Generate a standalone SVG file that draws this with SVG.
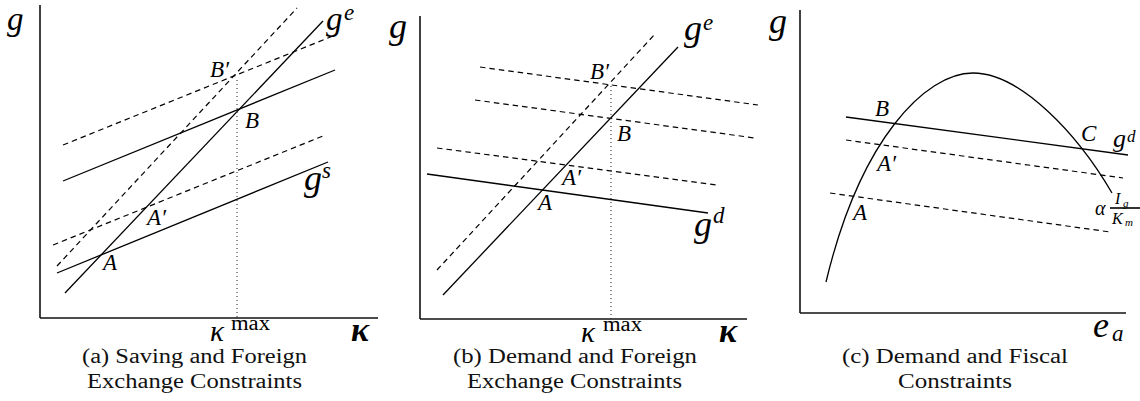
<svg xmlns="http://www.w3.org/2000/svg" width="1140" height="401" viewBox="0 0 1140 401">
<style>
.ax{stroke:#111;stroke-width:1.6;fill:none}
.ln{stroke:#000;stroke-width:1.3;fill:none}
.ds{stroke:#000;stroke-width:1.2;fill:none;stroke-dasharray:5.5 4}
.dt{stroke:#333;stroke-width:1.1;fill:none;stroke-dasharray:1 3}
.big{font-family:"Liberation Serif",serif;font-style:italic;font-size:36px;fill:#000}
.top{font-size:33px}
.sup{font-family:"Liberation Serif",serif;font-style:italic;font-size:23px;fill:#000}
.pt{font-family:"Liberation Serif",serif;font-style:italic;font-size:23px;fill:#000}
.kap{font-family:"Liberation Serif",serif;font-style:italic;font-size:29px;fill:#000}
.rm{font-family:"Liberation Serif",serif;font-size:20px;fill:#000}
.bk{font-family:"Liberation Serif",serif;font-style:italic;font-weight:bold;font-size:34px;fill:#000}
.cap{font-family:"Liberation Serif",serif;font-size:20px;fill:#111;text-anchor:middle}
</style>
<rect width="1140" height="401" fill="#fff"/>

<g id="panel-a">
  <g id="a-axes">
    <line class="ax" x1="40" y1="5" x2="40" y2="318"/>
    <line class="ax" x1="40" y1="318" x2="378" y2="318"/>
  </g>
  <g id="a-lines">
    <line class="ln" x1="65" y1="293" x2="323" y2="21"/>
    <line class="ds" x1="57" y1="266" x2="297" y2="8"/>
    <line class="ln" x1="63" y1="181" x2="335" y2="70"/>
    <line class="ds" x1="63" y1="145" x2="333" y2="36"/>
    <line class="ln" x1="57" y1="273" x2="328" y2="162"/>
    <line class="ds" x1="53" y1="245" x2="323" y2="136"/>
    <line class="dt" x1="237" y1="80" x2="237" y2="318"/>
  </g>
  <g id="a-labels">
    <text class="big top" x="7" y="30">g</text>
    <text class="big top" x="326" y="30">g</text><text class="sup" x="344" y="20">e</text>
    <text class="big" x="304" y="190">g</text><text class="sup" x="322" y="178">s</text>
    <text class="pt" x="210" y="77">B′</text>
    <text class="pt" x="245" y="128">B</text>
    <text class="pt" x="147" y="225">A′</text>
    <text class="pt" x="103" y="270">A</text>
    <text class="kap" x="210" y="341">κ</text><text class="rm" x="231" y="330" textLength="39" lengthAdjust="spacingAndGlyphs">max</text>
    <text class="bk" x="351" y="341">κ</text>
  </g>
  <g id="a-caption">
    <text class="cap" x="194.5" y="363" textLength="225" lengthAdjust="spacingAndGlyphs">(a) Saving and Foreign</text>
    <text class="cap" x="194.5" y="388" textLength="215" lengthAdjust="spacingAndGlyphs">Exchange Constraints</text>
  </g>
</g>

<g id="panel-b">
  <g id="b-axes">
    <line class="ax" x1="420" y1="16" x2="420" y2="319"/>
    <line class="ax" x1="420" y1="319" x2="747" y2="319"/>
  </g>
  <g id="b-lines">
    <line class="ln" x1="443" y1="295" x2="678" y2="47"/>
    <line class="ds" x1="437" y1="270" x2="656" y2="33"/>
    <line class="ds" x1="480" y1="67" x2="758" y2="105"/>
    <line class="ds" x1="475" y1="100" x2="755" y2="138"/>
    <line class="ds" x1="437" y1="148" x2="717" y2="185"/>
    <line class="ln" x1="427" y1="174" x2="708" y2="213"/>
    <line class="dt" x1="611" y1="86" x2="611" y2="319"/>
  </g>
  <g id="b-labels">
    <text class="big" x="389" y="38">g</text>
    <text class="big" x="684" y="40">g</text><text class="sup" x="703" y="30">e</text>
    <text class="big" x="694" y="236">g</text><text class="sup" x="713" y="223">d</text>
    <text class="pt" x="590" y="79">B′</text>
    <text class="pt" x="617" y="141">B</text>
    <text class="pt" x="562" y="185">A′</text>
    <text class="pt" x="538" y="210">A</text>
    <text class="kap" x="581" y="342">κ</text><text class="rm" x="603" y="331" textLength="39" lengthAdjust="spacingAndGlyphs">max</text>
    <text class="bk" x="719" y="342">κ</text>
  </g>
  <g id="b-caption">
    <text class="cap" x="575" y="363" textLength="244" lengthAdjust="spacingAndGlyphs">(b) Demand and Foreign</text>
    <text class="cap" x="574.5" y="388" textLength="215" lengthAdjust="spacingAndGlyphs">Exchange Constraints</text>
  </g>
</g>

<g id="panel-c">
  <g id="c-axes">
    <line class="ax" x1="800" y1="10" x2="800" y2="313"/>
    <line class="ax" x1="800" y1="313" x2="1126" y2="313"/>
  </g>
  <g id="c-lines">
    <path class="ln" d="M826,282 C860,140 925,73 973,73 C1020,73 1077,133 1112,193"/>
    <line class="ln" x1="846" y1="117" x2="1128" y2="155"/>
    <line class="ds" x1="846" y1="140" x2="1123" y2="178"/>
    <line class="ds" x1="830" y1="193" x2="1110" y2="232"/>
  </g>
  <g id="c-labels">
    <text class="big" x="769" y="33">g</text>
    <text class="pt" x="875" y="116">B</text>
    <text class="pt" x="1081" y="141">C</text>
    <text class="big" x="1113" y="147" style="font-size:26px">g</text><text class="sup" x="1127" y="142" style="font-size:17px">d</text>
    <text class="pt" x="877" y="171">A′</text>
    <text class="pt" x="853" y="220">A</text>
    <text class="sup" x="1095" y="215" style="font-size:20px">α</text>
    <text class="sup" x="1115" y="204" style="font-size:16px">I</text><text class="sup" x="1123" y="207" style="font-size:11px">g</text>
    <line x1="1110" y1="208" x2="1140" y2="208" stroke="#000" stroke-width="1.6"/>
    <text class="sup" x="1112" y="224" style="font-size:16px">K</text><text class="sup" x="1125" y="226" style="font-size:11px">m</text>
    <text class="big" x="1093" y="337" style="font-size:36px">e</text><text class="sup" x="1112" y="341">a</text>
  </g>
  <g id="c-caption">
    <text class="cap" x="955" y="363" textLength="226" lengthAdjust="spacingAndGlyphs">(c) Demand and Fiscal</text>
    <text class="cap" x="955" y="388" textLength="114" lengthAdjust="spacingAndGlyphs">Constraints</text>
  </g>
</g>
</svg>
